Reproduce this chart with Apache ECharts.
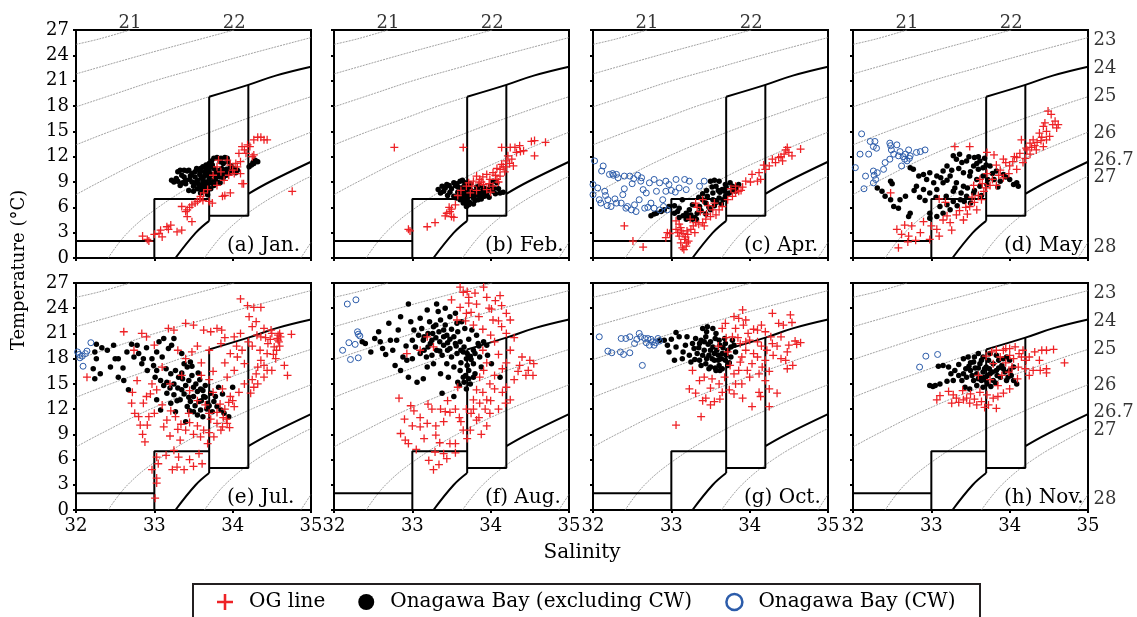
<!DOCTYPE html>
<html><head><meta charset="utf-8">
<script src="https://cdn.jsdelivr.net/npm/echarts@6/dist/echarts.min.js"></script>
<style>html,body{margin:0;padding:0;background:#fff}#c{width:1137px;height:617px}</style>
</head><body><div id="c"></div>
<script>
// ---------- axis ticks / labels ----------
const salTicks = [32, 33, 34, 35];
const tempTicks = [0, 3, 6, 9, 12, 15, 18, 21, 24, 27];
const panelLabels = ['(a) Jan.', '(b) Feb.', '(c) Apr.', '(d) May', '(e) Jul.', '(f) Aug.', '(g) Oct.', '(h) Nov.'];
const topSigmaLabels = [[32.69, 27, '21'], [34.02, 27, '22']];
const rightSigmaLabels = [[35, 25.8, '23'], [35, 22.5, '24'], [35, 19.1, '25'], [35, 14.8, '26'], [35, 11.6, '26.7'], [35, 9.5, '27'], [35, 1.3, '28']];

// ---------- sigma-t isopycnals (S, T) ----------
const sig21 = [[32, 25.3], [32.3, 25.95], [32.69, 27]];
const sig22 = [[32, 21.8], [32.83, 24], [33.42, 25.5], [34.02, 27]];
const sig23 = [[32, 17.9], [32.52, 19.5], [33.01, 21], [33.58, 22.5], [34.15, 24], [35, 26.1]];
const sig24 = [[32, 13.4], [32.44, 15], [32.92, 16.6], [33.33, 18], [33.7, 19.1]];
const sig25 = [[32, 7.5], [32.3, 9], [32.95, 12], [33.74, 15], [34.64, 18], [35, 19.1]];
const sig26 = [[32.41, 0], [32.66, 3], [33.05, 6], [33.57, 9], [34.24, 12], [35, 14.9]];
const sig27 = [[33.64, 0], [33.9, 3], [34.3, 6], [34.85, 9], [35, 9.67]];
const sig28 = [[34.87, 0], [34.94, 1], [35, 1.85]];
// water-mass boundaries (thick)
const sig24Bound = [[33.7, 19.1], [34.2, 20.5], [34.55, 21.6], [35, 22.65]];
const sig267BoundLow = [[33.27, 0], [33.53, 3], [33.7, 4.4]];
const sig267BoundHigh = [[34.2, 7.6], [34.47, 9], [35, 11.4]];
const boxA = [[32, 2], [33, 2]];
const boxB = [[33, 0], [33, 7], [33.7, 7]];
const boxC = [[33.7, 4.4], [33.7, 19.1]];
const boxD = [[33.7, 5], [34.2, 5], [34.2, 20.5]];

// ---------- observations: [salinity, temperature] ----------
const ogJan = [[32.85,2.6],[32.91,2.2],[32.93,2.0],[33.06,2.9],[33.08,3.3],[33.10,2.5],[33.16,3.7],[33.21,3.9],[33.29,3.1],[33.35,3.3],[33.48,4.3],[33.42,4.9],[33.35,6.1],[33.42,5.7],[33.45,6.0],[33.48,6.3],[33.52,6.5],[33.55,6.7],[33.59,7.3],[33.63,7.7],[33.70,6.7],[33.74,6.5],[33.68,8.1],[33.80,8.6],[33.89,9.2],[33.95,9.8],[34.02,10.0],[34.06,10.8],[34.10,11.4],[34.17,12.4],[34.08,12.4],[34.12,13.2],[34.19,13.4],[34.22,13.2],[34.27,14.0],[34.32,14.3],[34.36,14.3],[34.40,14.0],[34.44,14.0],[34.25,12.0],[34.12,8.8],[34.14,8.8],[33.97,7.7],[33.87,7.3],[33.90,7.4],[33.97,11.0],[33.82,11.6],[33.93,11.6],[33.80,10.8],[34.10,10.0],[34.00,10.4],[34.76,7.9],[34.27,12.2],[33.75,9.8],[33.85,10.2],[34.04,11.2],[33.62,6.8],[33.40,5.5],[33.18,3.4],[33.00,2.8],[33.58,7.0],[34.15,12.8]];
const bayJan = [[33.33,10.4],[33.38,10.4],[33.42,10.3],[33.48,10.0],[33.25,9.0],[33.30,9.1],[33.33,8.6],[33.40,8.8],[33.45,9.3],[33.50,7.9],[33.55,8.2],[33.59,7.7],[33.63,8.5],[33.76,11.8],[33.80,11.9],[33.85,11.8],[33.90,11.9],[33.93,11.8],[34.02,10.6],[34.06,10.4],[34.21,10.8],[34.24,11.0],[34.27,11.2],[34.32,11.4],[34.30,11.5],[33.55,9.2],[33.60,9.5],[33.68,10.0],[33.59,10.6],[33.64,10.2],[33.72,10.8],[33.80,10.4],[33.84,9.6],[33.76,9.2],[33.68,8.6],[33.66,9.0],[33.70,9.4],[33.74,9.9],[33.78,10.0],[33.82,10.1],[33.88,10.3],[33.92,10.5],[33.96,10.6],[33.98,10.9],[33.70,11.2],[33.66,11.0],[33.62,10.8],[33.52,9.6],[33.48,9.0],[33.56,8.8],[33.72,8.9],[33.78,9.4],[33.86,9.9],[33.90,10.0],[33.58,9.9],[33.64,9.7],[33.70,10.3],[33.76,10.6],[33.50,8.5],[33.44,8.0],[33.60,8.2],[33.66,7.9],[33.38,9.6],[33.35,9.8],[33.73,11.5],[33.88,11.2],[33.94,11.4],[33.68,7.5],[34.26,11.3],[34.28,11.6],[33.52,10.2],[33.58,10.3],[33.62,9.3],[33.66,8.4],[33.72,8.2],[33.76,8.6],[33.80,9.0],[33.84,8.9],[33.88,9.5],[33.92,9.8],[33.96,10.1],[34.00,10.2],[34.04,10.1],[33.46,9.7],[33.54,10.6],[33.66,10.6],[33.74,11.0],[33.84,11.4],[33.58,8.6],[33.52,8.9],[33.62,9.0],[33.70,9.7],[33.80,9.7],[33.86,10.6],[33.44,10.4],[33.40,9.2],[33.36,8.9],[33.28,9.4],[33.22,9.2],[33.30,10.2]];
const cwJan = [];

const ogFeb = [[32.77,13.1],[33.65,13.1],[34.14,13.1],[34.25,13.1],[34.37,13.3],[34.56,13.9],[34.52,13.8],[34.70,13.7],[34.56,12.1],[32.95,3.4],[32.97,3.2],[33.19,3.7],[33.29,4.2],[33.42,5.0],[33.44,5.3],[33.48,5.5],[33.50,4.9],[33.53,4.8],[33.55,6.3],[33.47,6.0],[33.50,5.8],[33.69,8.5],[33.78,9.1],[33.86,9.3],[33.95,9.9],[34.03,10.1],[34.12,10.5],[34.14,11.1],[34.20,11.5],[34.27,11.7],[34.33,12.5],[34.42,12.7],[34.38,12.6],[34.29,10.9],[34.08,9.3],[33.82,9.7],[33.76,8.5],[33.91,8.7],[33.99,9.3],[34.12,9.7],[34.16,10.8],[34.22,12.1],[34.31,13.1],[33.82,8.0],[33.95,8.1],[34.03,8.5],[33.90,9.6],[34.06,9.8],[34.18,10.2],[34.24,11.2],[33.72,8.9],[33.85,8.9],[33.98,8.8],[34.10,9.0],[33.74,7.7],[33.62,8.0],[33.58,7.4],[34.00,7.8],[34.08,10.6],[34.20,10.8],[33.88,9.0]];
const bayFeb = [[33.33,8.1],[33.36,7.7],[33.44,8.7],[33.47,8.6],[33.53,8.9],[33.57,8.8],[33.61,9.1],[33.64,9.2],[33.67,8.9],[33.67,7.5],[33.61,6.9],[33.65,6.5],[33.69,6.1],[33.72,6.3],[33.78,7.1],[33.86,7.3],[33.95,7.5],[34.03,7.9],[34.08,8.9],[34.16,7.8],[33.74,8.1],[33.80,7.9],[33.91,8.3],[33.96,8.1],[34.03,9.1],[33.53,7.3],[33.45,7.4],[33.58,7.8],[33.62,8.3],[33.70,8.4],[33.76,7.5],[33.70,7.0],[33.66,7.2],[33.84,7.7],[33.88,7.0],[33.98,7.2],[34.06,7.6],[34.00,8.6],[33.92,7.8],[33.82,8.4],[33.58,8.4],[33.50,8.2],[33.40,7.9],[33.73,6.6],[33.80,6.8],[33.68,6.6],[33.74,8.8],[33.86,8.6],[33.60,7.6],[33.64,7.9],[33.68,8.0],[33.72,7.3],[33.76,7.9],[33.80,7.4],[33.84,8.1],[33.88,7.6],[33.92,7.3],[33.96,7.9],[34.00,8.1],[34.04,8.3],[33.56,7.1],[33.62,7.4],[33.66,6.9],[33.70,7.6],[33.48,7.8],[33.42,8.3],[33.38,8.5],[33.55,8.6],[33.66,8.5],[34.10,8.2],[34.12,7.7],[33.78,6.4],[33.84,6.9],[33.90,7.9]];
const cwFeb = [];

const ogApr = [[32.40,3.8],[32.51,2.0],[32.64,1.3],[32.93,2.4],[32.95,3.0],[33.06,3.4],[33.10,2.6],[33.12,1.8],[33.14,1.2],[33.19,1.4],[33.17,2.2],[33.21,2.8],[33.25,3.4],[33.06,4.4],[33.10,4.0],[33.31,4.2],[33.40,4.2],[33.44,4.6],[33.50,4.9],[33.57,5.1],[33.61,5.7],[33.53,5.7],[33.31,6.5],[33.40,6.9],[33.72,6.9],[33.78,7.3],[33.82,7.7],[33.86,7.9],[33.82,8.5],[33.89,8.0],[33.95,9.1],[34.03,9.9],[34.12,10.1],[34.14,9.3],[34.20,10.5],[34.25,10.9],[34.33,11.3],[34.37,11.9],[34.44,12.3],[34.48,13.1],[34.50,12.5],[34.54,12.1],[34.65,12.9],[34.29,11.7],[34.42,11.5],[34.10,9.1],[34.01,9.0],[33.91,8.4],[33.76,8.2],[33.20,3.2],[33.15,2.9],[33.28,3.8],[33.35,4.0],[33.37,5.5],[33.45,5.2],[33.12,3.6],[33.20,1.8],[33.16,1.0],[33.08,3.0],[32.98,2.9],[33.24,4.6],[33.33,6.0],[33.47,6.2],[33.55,6.5],[33.65,6.1],[34.18,11.0],[34.40,12.0],[34.46,12.8],[33.18,2.5],[33.22,2.0],[33.13,3.2],[33.30,3.0],[33.42,3.8]];
const bayApr = [[32.74,5.0],[32.78,5.2],[32.81,5.3],[32.87,5.5],[32.91,5.7],[32.97,6.1],[33.04,5.3],[33.10,4.8],[33.19,4.6],[33.23,4.7],[33.27,4.6],[33.33,5.3],[33.23,5.7],[33.36,6.1],[33.44,6.5],[33.53,6.9],[33.61,7.1],[33.69,7.3],[33.65,8.1],[33.57,8.5],[33.50,9.1],[33.55,9.2],[33.61,9.1],[33.69,8.7],[33.78,8.5],[33.86,8.7],[33.82,7.9],[33.74,7.7],[33.53,7.7],[33.46,7.3],[33.40,6.9],[33.27,6.3],[33.14,6.9],[33.10,5.9],[33.04,6.2],[33.19,5.3],[33.30,4.8],[33.15,5.0],[33.38,5.6],[33.48,6.0],[33.58,6.6],[33.66,6.9],[33.72,7.6],[33.79,8.1],[33.62,7.8],[33.45,8.0],[33.40,7.6],[33.35,7.2],[33.44,5.2],[33.50,5.7],[33.55,6.2],[33.70,8.4],[33.83,8.3],[33.64,6.4],[33.25,5.1],[33.08,5.5],[33.60,8.0],[33.68,7.9],[33.75,8.9],[33.52,8.4],[33.20,4.9],[33.32,4.6]];
const cwApr = [[32.02,11.5],[32.13,10.9],[32.11,10.3],[32.21,9.9],[32.25,10.0],[32.30,9.9],[32.40,9.7],[32.47,9.7],[32.57,9.8],[32.61,9.1],[32.72,8.9],[32.78,9.3],[32.85,8.9],[32.93,9.1],[32.97,8.7],[33.06,9.3],[33.17,9.3],[33.23,9.1],[33.36,8.5],[33.42,9.1],[32.00,8.7],[32.06,8.3],[32.15,7.9],[32.08,6.9],[32.19,6.9],[32.23,6.1],[32.30,6.5],[32.38,7.5],[32.36,6.5],[32.44,6.1],[32.49,5.7],[32.53,6.3],[32.59,6.9],[32.64,8.1],[32.68,7.7],[32.74,6.5],[32.78,5.9],[32.85,5.7],[32.90,6.1],[32.81,7.9],[32.93,7.9],[33.10,8.3],[33.19,8.1],[32.95,5.7],[32.89,6.9],[32.26,9.8],[32.50,8.8],[32.00,7.5],[32.18,6.2],[32.42,5.9],[32.55,5.5],[32.66,5.9],[32.70,6.0],[32.10,6.5],[32.32,9.5],[32.52,9.4],[32.62,9.5],[33.00,8.0],[33.05,7.8],[32.16,7.4],[32.40,8.2],[32.28,7.0]];

const ogMay = [[32.58,1.2],[32.56,3.4],[32.62,2.8],[32.71,2.6],[32.75,3.8],[32.86,3.0],[32.98,2.2],[32.90,4.3],[33.07,3.4],[33.15,4.5],[33.24,4.2],[33.32,5.1],[33.41,4.5],[33.49,6.1],[33.58,5.7],[33.64,6.9],[32.48,7.7],[33.30,13.2],[33.49,13.2],[33.71,12.5],[33.80,12.2],[33.92,11.7],[34.00,10.9],[34.09,11.9],[34.15,14.0],[34.21,13.0],[34.26,13.6],[34.30,14.0],[34.34,12.8],[34.43,13.2],[34.47,14.0],[34.51,14.4],[34.60,15.4],[34.53,17.0],[34.49,17.4],[34.43,15.6],[34.38,14.8],[34.47,15.0],[34.26,12.3],[34.17,11.3],[34.09,10.5],[33.83,11.0],[33.62,9.3],[33.71,10.0],[33.54,8.6],[33.75,8.6],[33.83,8.6],[33.67,7.9],[33.92,9.5],[33.99,10.0],[34.04,11.4],[34.13,12.4],[34.22,12.8],[34.35,13.7],[34.41,14.3],[34.55,15.8],[34.58,16.2],[34.40,13.9],[34.28,13.1],[33.88,10.4],[33.78,9.3],[33.70,8.3],[33.60,7.4],[33.52,7.2],[33.44,6.0],[33.36,5.6],[33.20,5.0],[33.00,3.8],[32.80,2.1],[32.66,3.9],[32.70,1.9],[33.10,2.6],[33.26,3.3],[33.46,5.2],[33.18,6.6],[33.10,7.0],[34.45,16.0],[34.62,15.8],[33.95,11.3],[34.06,12.0],[33.86,9.8],[33.65,8.8],[33.55,6.6],[34.32,13.3],[34.20,11.8]];
const bayMay = [[32.31,8.3],[32.37,7.9],[32.41,7.3],[32.48,6.9],[32.48,9.1],[32.50,8.8],[32.52,6.1],[32.58,5.9],[32.71,4.9],[32.73,5.3],[32.60,6.9],[32.67,7.3],[32.73,10.7],[32.77,10.5],[32.84,9.7],[32.90,9.9],[32.98,10.1],[33.07,9.7],[33.15,10.3],[33.20,10.9],[33.28,12.1],[33.32,11.7],[33.39,11.3],[33.45,11.5],[33.54,10.9],[33.60,10.5],[33.66,10.7],[33.75,10.9],[33.83,10.3],[33.92,9.9],[34.00,9.3],[34.09,8.9],[34.11,8.5],[33.88,9.1],[33.80,9.3],[33.71,8.7],[33.62,8.5],[33.54,7.7],[33.45,7.3],[33.37,6.9],[33.28,6.7],[33.24,5.7],[33.15,5.3],[33.07,4.9],[32.98,4.7],[32.98,5.3],[33.11,6.1],[33.19,7.3],[33.28,7.9],[33.32,8.9],[33.41,8.5],[33.07,8.1],[32.98,7.7],[32.90,8.1],[32.81,8.5],[32.94,9.3],[33.15,8.9],[33.24,9.7],[33.49,9.7],[33.58,9.3],[33.66,9.7],[33.41,10.1],[33.35,10.6],[33.50,10.2],[33.58,11.2],[33.70,11.0],[33.62,11.5],[33.55,11.9],[33.48,12.0],[33.36,12.3],[33.20,9.2],[33.12,9.5],[33.03,8.9],[33.30,8.3],[33.38,7.7],[33.46,8.3],[33.55,8.0],[33.64,7.4],[33.72,9.3],[33.78,10.0],[33.95,9.6],[34.05,8.7],[33.85,8.4],[33.20,6.3],[33.33,6.2],[33.42,6.7],[33.50,6.5],[33.06,7.2],[32.92,6.8],[32.85,7.2],[32.78,8.0],[33.26,10.4],[33.60,12.0],[33.68,11.8]];
const cwMay = [[32.11,14.7],[32.22,13.8],[32.28,13.8],[32.26,13.2],[32.20,12.3],[32.09,12.3],[32.30,13.0],[32.47,13.6],[32.48,13.3],[32.56,13.4],[32.60,12.6],[32.71,12.8],[32.67,12.3],[32.73,12.1],[32.81,12.5],[32.86,12.6],[32.92,12.8],[32.03,10.7],[32.16,9.7],[32.26,10.3],[32.31,10.1],[32.26,8.9],[32.29,9.3],[32.14,8.2],[32.41,11.3],[32.47,11.7],[32.39,10.5],[32.62,10.9],[32.69,11.5],[32.66,11.7],[32.52,12.3],[32.58,12.1],[32.49,12.8],[32.27,9.8],[32.72,11.8],[32.64,12.0]];

const ogJul = [[32.14,15.8],[32.61,21.2],[32.74,19.0],[32.84,21.0],[32.90,20.6],[33.00,19.6],[33.18,21.6],[33.25,21.4],[33.40,22.2],[33.50,22.0],[33.63,21.4],[33.72,21.2],[33.80,21.6],[33.86,21.4],[34.02,20.6],[34.10,25.1],[34.19,24.3],[34.27,24.1],[34.36,24.1],[34.21,23.0],[34.25,21.8],[34.31,20.8],[34.36,20.6],[34.40,21.6],[34.49,21.4],[34.57,20.4],[34.59,20.0],[34.61,20.6],[34.58,20.2],[34.53,19.4],[34.44,18.6],[34.36,17.8],[34.32,17.0],[34.44,16.6],[34.50,16.6],[34.40,15.8],[34.32,15.0],[34.27,14.6],[34.23,13.9],[34.15,17.4],[34.06,18.2],[33.97,18.6],[34.02,16.6],[33.93,15.8],[33.87,14.4],[33.97,13.5],[34.02,12.3],[33.93,10.3],[33.87,9.9],[33.80,10.3],[33.76,8.7],[33.68,7.9],[33.63,9.5],[33.72,10.8],[33.59,8.7],[33.55,10.0],[33.44,11.5],[33.40,9.5],[33.33,8.3],[33.25,7.1],[33.31,6.3],[33.29,5.1],[33.23,4.8],[33.38,4.8],[33.61,5.5],[33.57,6.7],[33.03,6.3],[32.97,4.8],[33.03,3.8],[33.03,3.2],[33.01,1.4],[32.88,8.1],[32.91,10.1],[32.82,10.1],[32.80,11.1],[32.93,11.1],[32.86,12.7],[32.75,11.5],[32.71,12.7],[32.78,15.4],[33.03,14.3],[32.97,15.0],[33.12,9.9],[33.16,10.7],[33.27,11.1],[33.21,11.8],[33.34,10.2],[34.12,19.0],[34.25,19.5],[34.45,19.8],[34.55,18.0],[34.66,17.2],[34.70,16.0],[34.30,22.4],[34.60,21.0],[34.75,20.9],[33.60,17.5],[33.75,16.5],[33.90,17.5],[33.84,12.6],[33.70,15.5],[33.10,17.0],[32.95,13.8],[33.48,18.8],[34.48,20.3],[34.56,19.0],[33.20,15.0],[33.35,16.0],[33.45,14.2],[33.55,13.0],[33.65,12.5],[33.70,11.5],[33.80,11.6],[33.90,12.0],[33.75,14.0],[33.60,16.0],[33.40,18.0],[33.30,19.0],[33.55,19.5],[33.70,19.0],[33.85,19.8],[33.90,20.5],[34.05,19.5],[34.10,21.0],[34.20,20.0],[34.35,19.0],[34.42,20.5],[34.50,21.0],[34.58,20.8],[34.60,19.5],[34.52,18.5],[34.40,17.2],[34.30,16.2],[34.25,15.5],[34.15,15.0],[34.08,14.0],[34.00,13.0],[33.95,12.8],[33.92,10.8],[33.96,9.8],[33.88,11.0],[33.85,9.5],[33.70,9.2],[33.50,9.0],[33.45,10.4],[33.30,9.6],[33.20,8.8],[33.15,6.5],[33.05,5.5],[33.45,6.0],[33.50,5.2],[33.10,12.5],[33.00,11.5],[32.90,13.5],[32.85,9.0],[32.72,14.0]];
const bayJul = [[32.26,19.7],[32.33,19.3],[32.24,18.8],[32.26,18.0],[32.22,16.8],[32.24,15.6],[32.31,16.2],[32.44,17.0],[32.48,19.6],[32.50,18.0],[32.54,18.0],[32.54,15.8],[32.61,15.4],[32.67,14.3],[32.65,18.8],[32.71,19.7],[32.78,19.6],[32.74,18.2],[32.80,18.6],[32.84,17.4],[32.86,18.0],[32.91,16.6],[32.97,18.0],[32.99,17.2],[33.03,18.8],[33.06,20.0],[33.12,20.4],[33.18,19.2],[33.25,20.4],[33.22,19.6],[33.10,18.2],[33.03,16.6],[33.01,15.8],[33.08,15.4],[33.12,14.8],[33.16,15.2],[33.21,16.2],[33.27,16.6],[33.31,15.8],[33.35,18.6],[33.38,17.4],[33.42,17.0],[33.46,17.6],[33.35,14.3],[33.40,14.8],[33.44,15.4],[33.48,16.0],[33.53,15.0],[33.55,14.1],[33.59,14.4],[33.63,13.5],[33.65,14.8],[33.68,12.7],[33.72,13.9],[33.76,12.9],[33.80,12.3],[33.85,11.9],[33.89,11.5],[33.95,11.1],[33.74,11.7],[33.59,11.9],[33.50,11.7],[33.42,12.3],[33.33,13.1],[33.25,13.7],[33.29,13.0],[33.21,12.7],[33.27,11.7],[33.40,10.5],[33.08,11.9],[33.03,13.1],[33.16,13.9],[33.57,12.9],[33.50,13.5],[33.46,12.9],[33.82,14.6],[34.00,14.6],[33.87,13.8],[33.52,12.4],[33.60,13.0],[33.67,12.0],[33.55,11.3],[33.62,11.1],[33.38,13.8],[33.44,13.4],[33.36,15.6],[33.30,14.5],[33.20,14.5],[33.25,15.0],[33.58,15.5],[33.50,14.6],[33.65,13.4],[33.70,12.4],[33.78,13.5],[33.62,14.2],[33.45,11.8],[33.56,16.3],[33.48,17.1],[33.15,16.8],[33.35,16.3],[32.90,19.3],[32.60,16.9],[32.40,19.0]];
const cwJul = [[32.02,18.8],[32.05,18.1],[32.12,18.6],[32.14,18.9],[32.08,18.3],[32.09,17.1],[32.19,19.9],[32.04,18.5]];

const ogAug = [[32.83,13.3],[32.85,9.1],[32.91,8.3],[32.95,7.9],[33.10,9.9],[33.19,10.3],[33.29,6.9],[33.40,6.7],[33.44,6.1],[33.21,5.9],[33.27,4.8],[33.48,7.9],[33.55,7.9],[33.42,11.7],[33.48,11.6],[33.36,12.0],[33.65,9.5],[33.69,12.0],[33.78,13.1],[33.86,12.7],[33.95,13.1],[33.82,14.3],[33.61,26.5],[33.91,26.5],[33.65,25.9],[33.72,25.3],[33.82,24.5],[33.95,25.3],[34.06,24.9],[34.14,24.3],[34.01,23.9],[34.20,23.4],[34.25,22.6],[34.14,21.8],[34.03,22.6],[33.69,23.4],[33.61,24.1],[33.57,22.6],[33.19,20.6],[33.27,19.4],[34.25,19.0],[34.37,17.2],[34.50,17.8],[34.54,16.0],[34.48,16.6],[34.20,14.6],[34.25,13.1],[34.19,12.7],[33.91,16.6],[33.86,15.8],[33.99,15.0],[33.99,11.5],[33.82,10.7],[33.74,9.5],[33.10,19.0],[32.93,18.6],[33.02,11.8],[32.98,12.4],[33.15,8.5],[33.05,7.2],[33.30,8.9],[33.62,10.5],[33.90,14.0],[34.05,14.4],[34.10,18.5],[34.30,20.5],[34.40,18.2],[34.15,16.8],[33.78,22.0],[33.90,21.5],[33.72,24.6],[34.00,20.8],[33.50,25.0],[33.85,23.0],[34.55,17.4],[34.30,15.5],[33.93,12.0],[33.58,14.6],[32.90,10.8],[33.20,12.6],[33.34,5.4],[33.45,13.0],[33.55,12.0],[33.60,11.0],[33.75,11.5],[33.85,11.0],[33.88,9.0],[33.40,10.5],[33.30,10.0],[33.25,12.0],[33.10,11.0],[33.00,10.0],[33.35,8.0],[33.55,6.8],[33.70,8.5],[33.95,10.0],[34.10,12.0],[34.15,14.0],[34.00,13.0],[33.78,12.0],[34.35,16.5],[34.45,16.0],[34.20,17.5],[34.05,16.0],[33.95,17.5],[33.90,19.0],[34.05,20.0],[34.20,21.0],[34.10,22.5],[33.98,24.0],[33.80,25.8],[33.70,26.0],[34.12,25.5],[33.68,22.5],[33.75,23.5]];
const bayAug = [[32.36,20.0],[32.40,19.8],[32.47,18.8],[32.57,21.2],[32.59,20.0],[32.70,22.2],[32.72,20.2],[32.80,20.2],[32.78,17.2],[32.85,16.6],[32.95,15.8],[32.95,24.5],[32.85,23.0],[33.02,21.4],[33.10,22.8],[33.19,23.8],[33.31,24.5],[33.33,23.6],[33.27,21.8],[33.36,22.6],[33.42,22.0],[33.48,23.0],[33.57,22.2],[33.63,22.4],[33.67,21.6],[33.76,21.4],[33.82,20.8],[33.91,20.0],[33.95,19.6],[33.86,18.2],[33.78,17.4],[33.72,16.6],[33.65,15.8],[33.74,15.0],[33.69,14.4],[34.01,17.4],[34.12,15.8],[33.61,16.6],[33.53,17.0],[33.44,17.4],[33.36,16.2],[33.27,17.4],[33.19,17.0],[33.10,18.6],[33.04,19.4],[33.14,20.2],[33.23,19.8],[33.31,19.0],[33.40,19.6],[33.48,19.2],[33.57,18.6],[33.65,18.8],[33.69,18.0],[33.78,19.0],[33.61,20.0],[33.53,20.6],[33.44,20.8],[33.06,15.2],[33.14,15.6],[33.38,13.9],[33.53,13.5],[32.93,17.8],[32.88,18.2],[32.66,18.5],[32.75,19.0],[32.92,19.5],[33.00,20.2],[33.20,21.0],[33.30,20.5],[33.50,21.5],[33.72,20.3],[33.85,19.5],[33.80,16.2],[33.70,17.2],[33.62,17.5],[33.50,18.2],[33.38,18.4],[33.25,18.4],[33.15,19.0],[33.00,18.0],[33.58,15.2],[33.46,15.8],[33.88,17.0],[33.96,18.4],[33.74,18.3],[33.84,19.8],[33.12,21.6],[32.98,22.4],[33.42,24.0],[33.55,23.4],[33.66,19.4],[33.58,21.2],[33.40,21.4],[32.62,19.2],[32.52,20.4],[32.82,21.4],[33.20,19.4],[33.25,20.2],[33.35,20.0],[33.45,19.9],[33.55,19.8],[33.62,19.0],[33.70,18.6],[33.75,17.9],[33.80,18.6],[33.68,16.0],[33.72,15.6],[33.78,15.8],[33.66,15.2],[33.60,14.8],[33.45,19.0],[33.35,18.9],[33.18,18.2],[33.08,20.8],[33.15,20.6],[33.26,21.0],[33.34,21.2],[33.48,20.3],[33.56,19.5],[33.40,20.6],[33.30,22.0],[33.22,22.4]];
const cwAug = [[32.17,24.5],[32.28,25.0],[32.30,21.2],[32.31,20.9],[32.33,20.7],[32.19,19.9],[32.27,19.7],[32.11,19.0],[32.21,17.9],[32.31,18.1]];

const ogOct = [[33.06,10.1],[33.38,11.1],[33.50,12.5],[33.55,12.9],[33.31,13.9],[33.44,13.3],[33.23,14.4],[33.36,15.4],[33.27,16.6],[33.42,15.8],[33.61,15.0],[33.74,14.3],[33.82,15.0],[33.91,13.3],[34.03,12.3],[34.14,13.5],[34.12,14.0],[34.25,12.3],[34.35,13.9],[34.20,15.4],[34.12,16.2],[33.97,16.6],[33.86,16.6],[34.03,17.4],[34.20,17.8],[34.48,16.8],[34.46,17.8],[34.22,19.0],[34.29,19.8],[34.27,20.6],[34.10,21.4],[34.20,21.2],[33.95,22.6],[33.91,23.8],[33.86,22.8],[34.29,23.4],[34.37,22.2],[34.52,23.2],[34.54,22.3],[34.50,19.6],[34.65,19.9],[34.48,18.8],[33.78,20.6],[33.82,21.6],[33.65,21.6],[33.69,22.2],[33.88,19.8],[33.95,19.0],[34.05,18.6],[33.90,18.2],[34.00,20.2],[33.75,17.2],[33.88,17.6],[34.10,18.2],[34.16,17.0],[33.80,16.2],[33.68,15.8],[33.52,15.6],[33.72,18.8],[34.40,20.6],[34.30,18.4],[34.58,20.1],[34.10,20.0],[34.43,22.0],[33.98,21.0],[34.25,14.4],[33.60,19.5],[33.70,20.5],[33.85,20.5],[33.95,20.0],[34.05,21.5],[34.15,19.5],[34.35,19.5],[34.40,18.0],[34.60,19.7],[34.55,17.2],[34.25,16.5],[34.00,15.8],[33.90,15.0],[33.80,13.8],[33.65,14.0],[33.50,14.5],[33.40,13.0],[33.62,13.2],[33.92,22.0],[33.80,23.0],[34.15,22.0]];
const bayOct = [[32.85,20.2],[32.91,20.2],[32.95,19.6],[33.06,21.1],[33.10,20.6],[33.06,19.4],[32.97,18.8],[33.04,17.8],[33.14,18.0],[33.23,18.4],[33.29,19.2],[33.36,19.8],[33.40,21.6],[33.46,21.8],[33.53,21.6],[33.57,21.0],[33.44,20.6],[33.50,20.0],[33.61,20.2],[33.69,19.8],[33.76,19.4],[33.82,18.8],[33.78,20.2],[33.31,20.4],[33.27,19.8],[33.42,19.0],[33.48,18.4],[33.55,17.8],[33.61,17.2],[33.65,16.8],[33.57,16.6],[33.50,17.0],[33.44,17.4],[33.36,17.8],[33.30,17.9],[33.69,17.8],[33.76,18.2],[33.65,18.6],[33.58,19.0],[33.53,19.4],[33.72,19.0],[33.18,19.6],[33.20,20.6],[33.00,20.3],[33.38,20.2],[33.47,19.7],[33.60,18.4],[33.66,19.3],[33.56,20.4],[33.40,18.4],[33.33,18.6],[33.52,18.0],[33.70,18.4],[33.80,19.6],[33.62,19.6],[33.45,21.2],[33.56,16.9],[33.62,16.6],[33.48,16.8],[33.74,17.5],[33.25,17.6],[33.15,18.8],[33.35,19.3],[33.45,18.0],[33.55,18.6],[33.64,18.0],[33.72,17.2],[33.50,19.0],[33.42,20.0],[33.60,17.8],[33.38,17.2],[33.68,20.4]];
const cwOct = [[32.08,20.6],[32.19,18.9],[32.24,18.7],[32.35,18.8],[32.39,18.5],[32.47,18.7],[32.36,20.4],[32.42,20.4],[32.47,20.6],[32.53,19.8],[32.59,21.0],[32.61,20.6],[32.66,20.4],[32.70,20.4],[32.72,19.6],[32.78,19.6],[32.76,20.0],[32.83,20.4],[32.85,20.1],[32.63,17.2],[32.56,20.3],[32.80,19.9],[32.74,20.3],[32.68,19.9]];

const ogNov = [[33.07,13.1],[33.11,13.6],[33.22,14.1],[33.28,13.7],[33.32,13.3],[33.26,12.7],[33.35,12.8],[33.41,13.1],[33.45,13.3],[33.49,12.7],[33.58,12.5],[33.64,12.9],[33.71,13.7],[33.73,12.5],[33.79,13.3],[33.83,12.1],[33.92,13.9],[34.00,14.4],[33.88,18.2],[33.92,19.0],[34.00,19.2],[34.07,19.4],[34.17,19.0],[34.15,18.2],[34.11,17.0],[34.03,17.0],[33.99,16.4],[34.30,16.6],[34.39,16.6],[34.47,16.8],[34.47,16.3],[34.38,17.8],[34.41,19.0],[34.47,19.0],[34.56,19.1],[34.70,17.5],[34.21,17.8],[33.79,17.4],[33.83,19.0],[33.77,18.8],[33.70,18.3],[33.95,17.5],[34.10,15.6],[33.85,14.8],[33.62,14.0],[33.50,13.8],[33.40,14.2],[34.25,16.0],[34.32,18.8],[34.05,18.0],[33.60,16.0],[33.75,15.5],[33.90,16.0],[34.00,18.4],[33.95,19.2],[34.12,18.6],[34.25,18.2],[34.20,16.8],[33.55,13.2],[33.68,12.2],[33.85,13.5]];
const bayNov = [[32.98,14.8],[33.02,14.7],[33.05,14.8],[33.11,15.0],[33.09,17.1],[33.15,17.2],[33.22,17.0],[33.30,16.6],[33.28,15.4],[33.39,15.4],[33.43,14.6],[33.41,18.0],[33.47,18.2],[33.54,17.6],[33.60,18.6],[33.66,18.2],[33.73,17.8],[33.75,18.6],[33.83,18.4],[33.92,18.0],[33.96,18.2],[34.00,17.8],[33.92,16.8],[33.83,16.6],[33.75,16.2],[33.66,16.4],[33.58,16.2],[33.50,16.6],[33.41,16.2],[33.54,15.4],[33.64,15.4],[33.71,15.0],[33.79,15.4],[33.88,15.8],[33.96,15.4],[34.05,15.4],[34.09,15.0],[34.02,16.0],[33.58,14.8],[33.49,14.4],[33.62,17.4],[33.79,17.4],[33.70,17.0],[33.60,16.9],[33.48,17.1],[33.35,16.0],[33.45,15.8],[33.68,15.8],[33.84,16.0],[33.90,17.2],[34.05,17.0],[33.76,14.7],[33.66,14.6],[33.55,18.2],[33.86,17.8],[33.20,15.3],[33.25,16.2],[33.35,17.3],[33.62,15.8],[33.74,16.8],[33.50,17.5],[33.56,16.9],[33.64,17.8],[33.68,16.8],[33.72,16.0],[33.78,16.4],[33.86,16.9],[33.94,16.4],[34.00,16.6],[33.60,15.6],[33.52,16.0],[33.44,16.8],[33.70,15.4],[33.82,15.1],[33.98,15.8]];
const cwNov = [[32.85,17.0],[32.93,18.3],[33.08,18.5]];

// ---------- layout / style ----------
const FONT = 'DejaVu Serif';
const PLUS = 'path://M4.2,0H5.8V4.2H10V5.8H5.8V10H4.2V5.8H0V4.2H4.2Z';
const RED = '#ee2226', BLUE = '#2c5caa';
const lefts = [76, 334, 593, 853];
const tops = [30, 283], heights = [228, 227], W = 235;
const panels = [
  [ogJan, bayJan, cwJan], [ogFeb, bayFeb, cwFeb], [ogApr, bayApr, cwApr], [ogMay, bayMay, cwMay],
  [ogJul, bayJul, cwJul], [ogAug, bayAug, cwAug], [ogOct, bayOct, cwOct], [ogNov, bayNov, cwNov]
];
const thin = [sig21, sig22, sig23, sig24, sig25, sig26, sig27, sig28];
const thickCurves = [sig24Bound, sig267BoundLow, sig267BoundHigh];
const boxes = [boxA, boxB, boxC, boxD];

const grid = [], xAxis = [], yAxis = [], series = [], graphic = [];
panels.forEach((p, i) => {
  const col = i % 4, row = Math.floor(i / 4);
  grid.push({left: lefts[col], top: tops[row], width: W, height: heights[row], show: true, borderColor: '#000', borderWidth: 2, backgroundColor: 'transparent'});
  xAxis.push({gridIndex: i, type: 'value', min: salTicks[0], max: salTicks[salTicks.length - 1], interval: 1,
    splitLine: {show: false}, axisLine: {lineStyle: {color: '#000', width: 2}},
    axisTick: {show: true, length: 3, lineStyle: {color: '#000', width: 2}},
    axisLabel: {show: row === 1, color: '#000', fontFamily: FONT, fontSize: 18, margin: 7}});
  yAxis.push({gridIndex: i, type: 'value', min: tempTicks[0], max: tempTicks[tempTicks.length - 1], interval: 3,
    splitLine: {show: false}, axisLine: {lineStyle: {color: '#000', width: 2}},
    axisTick: {show: true, length: 3, lineStyle: {color: '#000', width: 2}},
    axisLabel: {show: col === 0, color: '#000', fontFamily: FONT, fontSize: 18, margin: 7}});
  const base = {xAxisIndex: i, yAxisIndex: i, silent: true, animation: false};
  thin.forEach(d => series.push(Object.assign({type: 'line', data: d, smooth: 0.4, symbol: 'none', z: 1,
    lineStyle: {color: '#8a8a8a', width: 0.8, type: [2, 1]}}, base)));
  thickCurves.forEach(d => series.push(Object.assign({type: 'line', data: d, smooth: 0.4, symbol: 'none', z: 2,
    lineStyle: {color: '#000', width: 2}}, base)));
  boxes.forEach(d => series.push(Object.assign({type: 'line', data: d, symbol: 'none', z: 2,
    lineStyle: {color: '#000', width: 2}}, base)));
  series.push(Object.assign({type: 'scatter', name: 'Onagawa Bay (excluding CW)', data: p[1], symbol: 'circle', symbolSize: 5.5, z: 3,
    itemStyle: {color: '#000', opacity: 1}}, base));
  series.push(Object.assign({type: 'scatter', name: 'OG line', data: p[0], symbol: PLUS, symbolSize: 8, z: 4,
    itemStyle: {color: RED, opacity: 1}}, base));
  series.push(Object.assign({type: 'scatter', name: 'Onagawa Bay (CW)', data: p[2], symbol: 'circle', symbolSize: 6, z: 5,
    itemStyle: {color: 'rgba(255,255,255,0)', borderColor: BLUE, borderWidth: 1, opacity: 1}}, base));
  if (row === 0) {
    series.push(Object.assign({type: 'scatter', data: topSigmaLabels, symbolSize: 1, clip: false, z: 6,
      itemStyle: {color: 'rgba(0,0,0,0)'},
      label: {show: true, position: 'top', distance: -3, formatter: q => q.value[2], color: '#000', fontFamily: FONT, fontSize: 18}}, base));
  }
  if (col === 3) {
    series.push(Object.assign({type: 'scatter', data: rightSigmaLabels, symbolSize: 1, clip: false, z: 6,
      itemStyle: {color: 'rgba(0,0,0,0)'},
      label: {show: true, position: 'right', distance: 5, formatter: q => q.value[2], color: '#000', fontFamily: FONT, fontSize: 18}}, base));
  }
  graphic.push({type: 'text', x: lefts[col] + 151, y: tops[row] + heights[row] - 12,
    style: {text: panelLabels[i], font: '20px "DejaVu Serif"', fill: '#000', textAlign: 'left', textVerticalAlign: 'middle'}, z: 10});
});

graphic.push({type: 'text', x: 19, y: 270, rotation: Math.PI / 2,
  style: {text: 'Temperature (°C)', font: '18px "DejaVu Serif"', fill: '#000', textAlign: 'center', textVerticalAlign: 'middle'}});
graphic.push({type: 'text', x: 582, y: 553,
  style: {text: 'Salinity', font: '20px "DejaVu Serif"', fill: '#000', textAlign: 'center', textVerticalAlign: 'middle'}});
graphic.push({type: 'rect', shape: {x: 193, y: 584, width: 787, height: 60},
  style: {fill: 'none', stroke: '#231f20', lineWidth: 2}});

const chart = echarts.init(document.getElementById('c'), null, {renderer: 'canvas'});
chart.setOption({
  animation: false,
  backgroundColor: '#fff',
  grid, xAxis, yAxis, series, graphic,
  legend: {
    left: 217, top: 592, padding: 0, itemWidth: 16, itemHeight: 17, itemGap: 33,
    textStyle: {fontFamily: FONT, fontSize: 20, color: '#000', padding: [0, 0, 0, 11]},
    data: [
      {name: 'OG line', icon: PLUS},
      {name: 'Onagawa Bay (excluding CW)', icon: 'circle'},
      {name: 'Onagawa Bay (CW)', icon: 'circle', itemStyle: {color: '#fff', borderColor: BLUE, borderWidth: 2.5}}
    ]
  }
});
</script></body></html>
